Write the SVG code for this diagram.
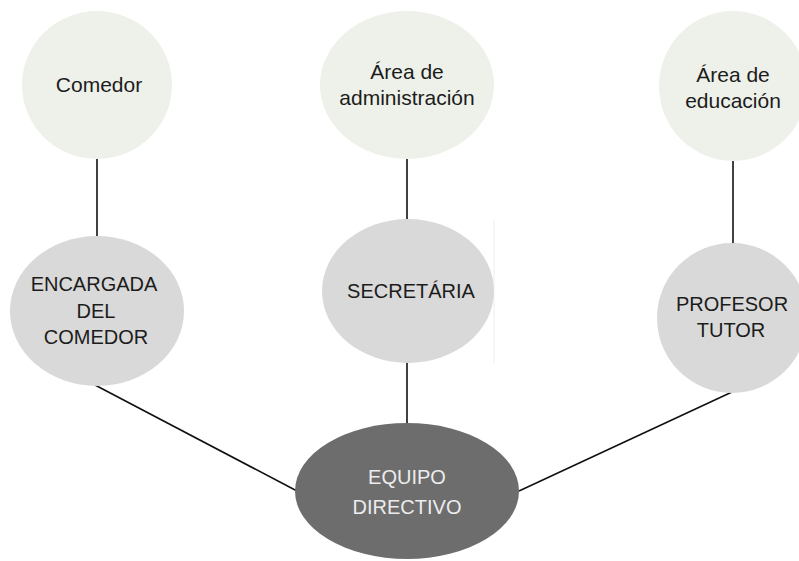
<svg xmlns="http://www.w3.org/2000/svg" width="799" height="561" viewBox="0 0 799 561">
<style>
.top{fill:#eef1ea}
.mid{fill:#d9d9d9}
.root{fill:#6d6d6d}
.t{font-family:"Liberation Sans",Arial,sans-serif;font-size:21px;fill:#1c1c1c;text-anchor:middle}
.c{font-size:20px}
.w{fill:#ececec}
.conn line{stroke:#111;stroke-width:1.6}
</style>
<rect width="799" height="561" fill="#ffffff"/>
<g class="conn">
<line x1="97" y1="158" x2="97" y2="237"/>
<line x1="407" y1="158" x2="407" y2="220"/>
<line x1="733" y1="160" x2="733" y2="244"/>
<line x1="407" y1="362" x2="407" y2="424"/>
<line x1="95" y1="385" x2="297" y2="491"/>
<line x1="732" y1="392" x2="519" y2="491"/>
</g>
<line x1="494" y1="219" x2="494" y2="363" stroke="#eeeeee" stroke-width="1"/>
<g id="comedor">
<ellipse class="top" cx="97" cy="85" rx="75" ry="74"/>
<text class="t" x="99" y="92">Comedor</text>
</g>
<g id="area-administracion">
<ellipse class="top" cx="407" cy="85" rx="87" ry="74"/>
<text class="t" x="407" y="79">Área de</text>
<text class="t" x="407" y="105">administración</text>
</g>
<g id="area-educacion">
<ellipse class="top" cx="733" cy="86" rx="74" ry="75"/>
<text class="t" x="733" y="82">Área de</text>
<text class="t" x="733" y="108">educación</text>
</g>
<g id="encargada">
<ellipse class="mid" cx="97" cy="311" rx="87" ry="75"/>
<text class="t c" x="94" y="291">ENCARGADA</text>
<text class="t c" x="96" y="318">DEL</text>
<text class="t c" x="96" y="344">COMEDOR</text>
</g>
<g id="secretaria">
<ellipse class="mid" cx="408" cy="291" rx="86" ry="72"/>
<text class="t c" x="411" y="298">SECRETÁRIA</text>
</g>
<g id="profesor">
<ellipse class="mid" cx="732" cy="318" rx="75" ry="75"/>
<text class="t c" x="732" y="311">PROFESOR</text>
<text class="t c" x="731" y="337">TUTOR</text>
</g>
<g id="equipo">
<ellipse class="root" cx="407" cy="491" rx="112" ry="68"/>
<text class="t c w" x="407" y="484">EQUIPO</text>
<text class="t c w" x="407" y="514">DIRECTIVO</text>
</g>
</svg>
